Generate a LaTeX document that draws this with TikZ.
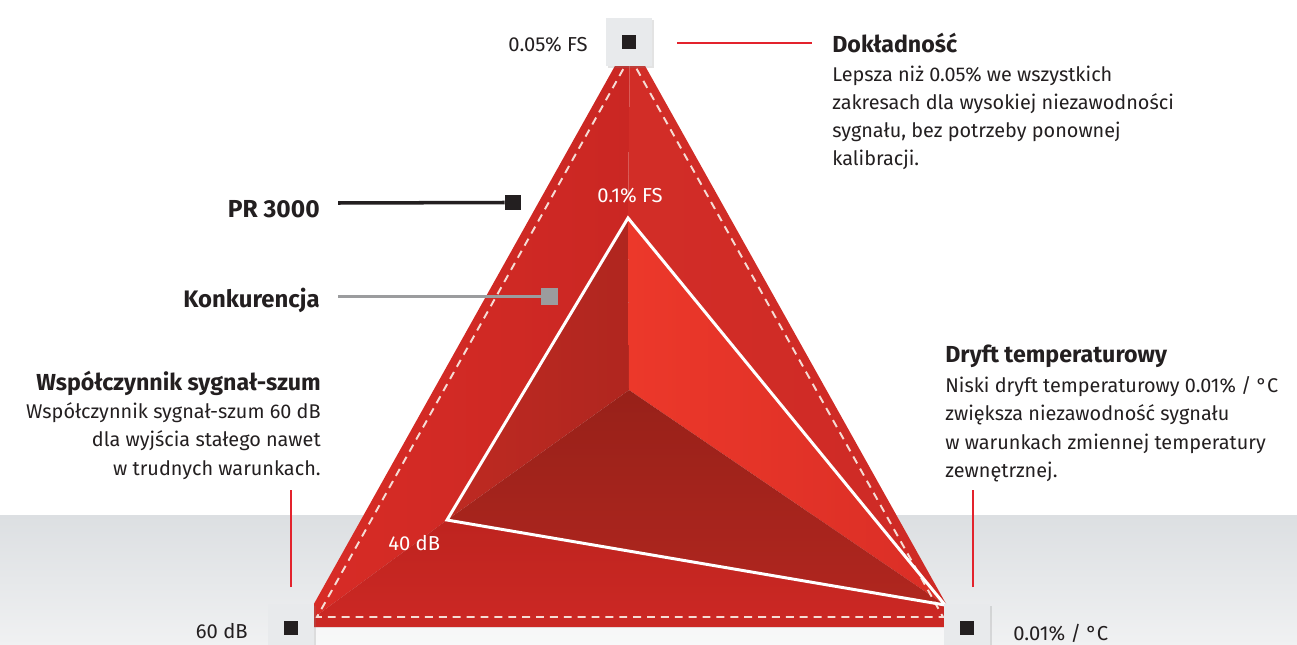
\documentclass[tikz,border=0pt]{standalone}
\usepackage{fontspec}
\setmainfont{Fira Sans}
\usetikzlibrary{positioning, shadows}

\definecolor{inkgray}{HTML}{231F20}
\definecolor{callred}{HTML}{E3232D}
\definecolor{konkgray}{HTML}{9B9C9E}
\definecolor{boxgray}{HTML}{E8EAEC}
\definecolor{bandtop}{HTML}{DCDFE2}
\definecolor{bandbot}{HTML}{F0F1F2}
\definecolor{seam}{HTML}{F6DCD5}

\begin{document}
\begin{tikzpicture}[
  x=0.02cm, y=-0.02cm,
  markbox/.style={rectangle, fill=boxgray, minimum width=0.92cm,
    minimum height=0.96cm, inner sep=0pt,
    drop shadow={shadow xshift=1.4pt, shadow yshift=-1pt, opacity=0.22}},
  markdot/.style={rectangle, fill=inkgray, minimum size=0.28cm, inner sep=0pt},
  bodytext/.style={anchor=base west, inner sep=0pt, text=inkgray,
    font=\fontsize{11.3}{14}\selectfont},
  headtext/.style={anchor=base west, inner sep=0pt, text=inkgray,
    font=\fontsize{13.2}{15}\selectfont\bfseries},
  valtext/.style={inner sep=0pt, font=\fontsize{11.5}{14}\selectfont},
  callout/.style={callred, line width=0.85pt}
]
  \useasboundingbox (0,0) rectangle (1297,645);

  % floor band
  \shade[top color=bandtop, bottom color=bandbot] (0,515) rectangle (1297,645);

  % corners of the outer and inner triangle
  \coordinate (T) at (630,39);
  \coordinate (L) at (301,627);
  \coordinate (R) at (959,627);
  \coordinate (t) at (628,218);
  \coordinate (l) at (447,520);
  \coordinate (r) at (945,605);
  \coordinate (C) at (629,390);

  % outer faces
  \shade[left color={rgb,255:red,216;green,44;blue,38}, right color={rgb,255:red,202;green,39;blue,35}]
    (T) -- (L) -- (l) -- (t) -- cycle;
  \shade[left color={rgb,255:red,210;green,45;blue,39}, right color={rgb,255:red,206;green,42;blue,37}]
    (T) -- (t) -- (r) -- (R) -- cycle;
  \shade[top color={rgb,255:red,190;green,36;blue,31}, bottom color={rgb,255:red,204;green,40;blue,36}]
    (L) -- (R) -- (r) -- (l) -- cycle;
  % inner faces
  \shade[left color={rgb,255:red,190;green,42;blue,34}, right color={rgb,255:red,176;green,38;blue,31}]
    (t) -- (l) -- (C) -- cycle;
  \shade[left color={rgb,255:red,236;green,56;blue,42}, right color={rgb,255:red,218;green,46;blue,38}]
    (t) -- (C) -- (r) -- cycle;
  \shade[top color={rgb,255:red,152;green,33;blue,25}, bottom color={rgb,255:red,176;green,38;blue,31}]
    (l) -- (C) -- (r) -- cycle;

  % reflection under the base
  \fill[white, opacity=0.55] (314,628) rectangle (944,645);

  % stitched edge and competitor outline
  \draw[seam, line width=1.1pt, dash pattern=on 4.5pt off 3.4pt]
    (630,57) -- (317,617) -- (943,617) -- cycle;
  \draw[white, line width=1.7pt, line join=miter] (t) -- (l) -- (r) -- cycle;

  % value corners
  \node[markbox] (accbox) at (629,42) {};
  \node[markbox] (snrbox) at (291,628) {};
  \node[markbox] (tempbox) at (967,628) {};
  \node[markdot] at (accbox) {};
  \node[markdot] at (snrbox) {};
  \node[markdot] at (tempbox) {};

  \node[valtext, anchor=base east, text=inkgray] (accval) at (588,52) {0.05\% FS};
  \node[valtext, anchor=base east, text=inkgray] (snrval) at (248,638) {60 dB};
  \node[valtext, anchor=base west, text=inkgray] (tempval) at (1013,640) {0.01\% / °C};
  \node[valtext, anchor=base, text=white] (accin) at (630,202) {0.1\% FS};
  \node[valtext, anchor=base west, text=white] (snrin) at (388,550) {40 dB};

  % legend
  \node[headtext, anchor=base east, font=\fontsize{14}{16}\selectfont\bfseries] (prlabel) at (320,217) {PR 3000};
  \node[headtext, anchor=base east, font=\fontsize{13.6}{16}\selectfont\bfseries] (konklabel) at (320,307) {Konkurencja};
  \node[rectangle, fill=inkgray, minimum size=0.32cm, inner sep=0pt] (prmark) at (513,202.5) {};
  \node[rectangle, fill=konkgray, minimum size=0.34cm, inner sep=0pt] (konkmark) at (549.5,296.5) {};
  \coordinate (prA) at (338,203);
  \coordinate (konkA) at (338,296.5);
  \draw[inkgray, line width=2pt] (prA) -- (prmark.west);
  \draw[konkgray, line width=1.4pt] (konkA) -- (konkmark.west);

  % Dokladnosc
  \coordinate (accA) at (677,43);
  \coordinate (accB) at (812,43);
  \draw[callout] (accA) -- (accB);
  \node[headtext] (acchead) at (832,53) {Dokładność};
  \foreach \txt [count=\i from 0] in {Lepsza niż 0.05\% we wszystkich,
      zakresach dla wysokiej niezawodności,
      {sygnału, bez potrzeby ponownej}, kalibracji.}
    \node[bodytext] (accline\i) at (832,82+28*\i) {\txt};

  % Wspolczynnik sygnal-szum
  \coordinate (snrA) at (291,490);
  \coordinate (snrB) at (291,587);
  \draw[callout] (snrB) -- (snrA);
  \node[headtext, anchor=base east] (snrhead) at (321,390) {Współczynnik sygnał-szum};
  \foreach \txt [count=\i from 0] in {Współczynnik sygnał-szum 60 dB,
      dla wyjścia stałego nawet, w trudnych warunkach.}
    \node[bodytext, anchor=base east] (snrline\i) at (321,418+28.5*\i) {\txt};

  % Dryft temperaturowy
  \coordinate (tempA) at (973,490);
  \coordinate (tempB) at (973,587);
  \draw[callout] (tempB) -- (tempA);
  \node[headtext] (temphead) at (945,362) {Dryft temperaturowy};
  \foreach \txt [count=\i from 0] in {Niski dryft temperaturowy 0.01\% / °C,
      zwiększa niezawodność sygnału,
      w warunkach zmiennej temperatury, zewnętrznej.}
    \node[bodytext] (templine\i) at (945,392+28.5*\i) {\txt};
\end{tikzpicture}
\end{document}
